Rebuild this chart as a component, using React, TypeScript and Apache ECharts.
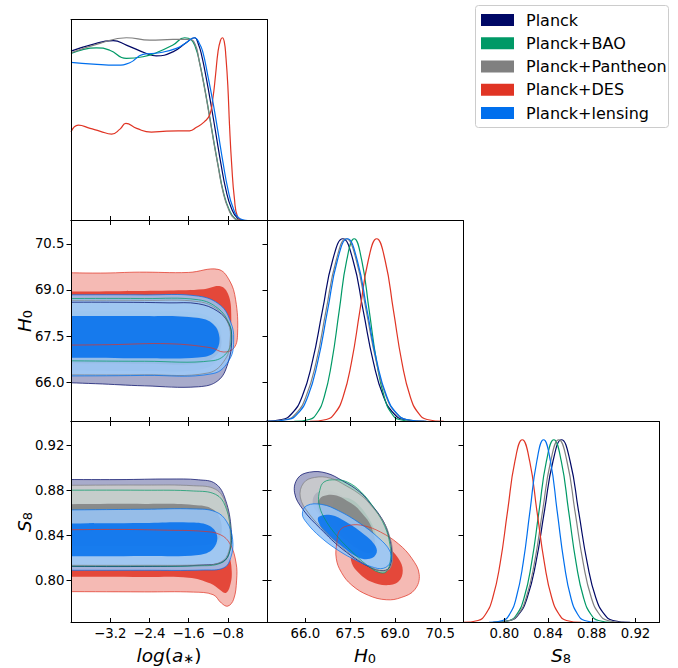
import React, { useEffect, useRef } from "react";
import * as echarts from "echarts";

// ---------------- data ----------------
const NAMES = ["Planck", "Planck+BAO", "Planck+Pantheon", "Planck+DES", "Planck+lensing"];
const COLORS = ["#000866", "#009966", "#808080", "#E03424", "#006FED"];
const PALE = ["#999CC2", "#99D6C2", "#CCCCCC", "#F3AEA7", "#99C5F8"];
const FILL_ORDER = [3, 0, 1, 2, 4];
const LINE_ORDER = [0, 1, 2, 3, 4];

const LOGA_TICKS = [-3.2, -2.4, -1.6, -0.8];
const H0_TICKS = [66.0, 67.5, 69.0, 70.5];
const S8_TICKS = [0.8, 0.84, 0.88, 0.92];
const LOGA_RANGE = [-4, 0];
const H0_RANGE = [64.72, 71.26];
const S8_RANGE = [0.7622, 0.9415];
const P_RANGE = [0, 1.1];

// 1D marginals: log(a*)
const logaPlanck = [[-4.0,0.927],[-3.61,0.960],[-3.14,0.984],[-2.87,0.960],[-2.46,0.914],[-2.26,0.901],[-1.92,0.923],[-1.65,0.973],[-1.48,1.0],[-1.40,0.965],[-1.33,0.90],[-1.24,0.78],[-1.14,0.63],[-1.04,0.47],[-0.94,0.31],[-0.84,0.17],[-0.73,0.07],[-0.60,0.012],[-0.45,0]];
const logaBAO = [[-4.0,0.914],[-3.48,0.945],[-3.21,0.932],[-2.87,0.887],[-2.53,0.896],[-2.26,0.918],[-1.92,0.960],[-1.68,1.0],[-1.55,0.99],[-1.45,0.94],[-1.38,0.87],[-1.29,0.75],[-1.19,0.60],[-1.09,0.44],[-0.99,0.29],[-0.89,0.155],[-0.78,0.065],[-0.65,0.01],[-0.5,0]];
const logaPantheon = [[-4.0,0.918],[-3.41,0.969],[-2.87,1.0],[-2.39,0.987],[-1.92,0.991],[-1.58,0.991],[-1.46,0.96],[-1.39,0.88],[-1.30,0.76],[-1.20,0.61],[-1.10,0.45],[-1.00,0.30],[-0.90,0.16],[-0.79,0.065],[-0.66,0.01],[-0.5,0]];
const logaDES = [[-4.0,0.485],[-3.85,0.522],[-3.61,0.504],[-3.40,0.488],[-3.17,0.473],[-3.0,0.50],[-2.88,0.531],[-2.66,0.504],[-2.36,0.484],[-2.05,0.489],[-1.58,0.491],[-1.44,0.51],[-1.28,0.54],[-1.17,0.577],[-1.105,0.668],[-1.05,0.796],[-1.0,0.923],[-0.95,0.985],[-0.91,1.0],[-0.87,0.975],[-0.84,0.9],[-0.8,0.741],[-0.765,0.522],[-0.72,0.303],[-0.665,0.12],[-0.6,0.02],[-0.5,0]];
const logaLensing = [[-4.0,0.865],[-3.55,0.856],[-3.07,0.850],[-2.80,0.863],[-2.53,0.909],[-2.19,0.918],[-1.85,0.942],[-1.65,0.973],[-1.48,1.0],[-1.38,0.969],[-1.31,0.923],[-1.21,0.796],[-1.105,0.650],[-1.0,0.485],[-0.90,0.321],[-0.80,0.175],[-0.70,0.075],[-0.56,0.011],[-0.39,0]];

// 1D marginals: H0
const h0Planck = [[64.53,0.0003],[65.21,0.0111],[65.55,0.0439],[65.89,0.1353],[66.23,0.3247],[66.57,0.6065],[66.91,0.8825],[67.25,1],[67.59,0.8825],[67.93,0.6065],[68.27,0.3247],[68.61,0.1353],[68.95,0.0439],[69.29,0.0111],[69.97,0.0003]];
const h0BAO = [[65.63,0.0003],[66.13,0.0111],[66.38,0.0439],[66.63,0.1353],[66.88,0.3247],[67.13,0.6065],[67.38,0.8825],[67.63,1],[67.88,0.8825],[68.13,0.6065],[68.38,0.3247],[68.63,0.1353],[68.88,0.0439],[69.13,0.0111],[69.63,0.0003]];
const h0Pantheon = [[64.68,0.0003],[65.35,0.0111],[65.69,0.0439],[66.02,0.1353],[66.36,0.3247],[66.69,0.6065],[67.03,0.8825],[67.36,1],[67.70,0.8825],[68.03,0.6065],[68.37,0.3247],[68.70,0.1353],[69.04,0.0439],[69.37,0.0111],[70.04,0.0003]];
const h0DES = [[66.14,0.0003],[66.70,0.0111],[66.98,0.0439],[67.26,0.1353],[67.54,0.3247],[67.82,0.6065],[68.10,0.8825],[68.38,1],[68.66,0.8825],[68.94,0.6065],[69.22,0.3247],[69.50,0.1353],[69.78,0.0439],[70.06,0.0111],[70.62,0.0003]];
const h0Lensing = [[64.76,0.0003],[65.42,0.0111],[65.75,0.0439],[66.08,0.1353],[66.41,0.3247],[66.74,0.6065],[67.07,0.8825],[67.40,1],[67.73,0.8825],[68.06,0.6065],[68.39,0.3247],[68.72,0.1353],[69.05,0.0439],[69.38,0.0111],[70.04,0.0003]];

// 1D marginals: S8
const s8Planck = [[0.7895,0.0003],[0.8052,0.0111],[0.8131,0.0439],[0.8209,0.1353],[0.8288,0.3247],[0.8366,0.6065],[0.8445,0.8825],[0.8523,1],[0.8602,0.8825],[0.8680,0.6065],[0.8759,0.3247],[0.8837,0.1353],[0.8916,0.0439],[0.8994,0.0111],[0.9151,0.0003]];
const s8BAO = [[0.7909,0.0003],[0.8045,0.0111],[0.8113,0.0439],[0.8181,0.1353],[0.8249,0.3247],[0.8317,0.6065],[0.8385,0.8825],[0.8453,1],[0.8521,0.8825],[0.8589,0.6065],[0.8657,0.3247],[0.8725,0.1353],[0.8793,0.0439],[0.8861,0.0111],[0.8997,0.0003]];
const s8Pantheon = [[0.7902,0.0003],[0.8051,0.0111],[0.8126,0.0439],[0.8200,0.1353],[0.8275,0.3247],[0.8349,0.6065],[0.8424,0.8825],[0.8498,1],[0.8573,0.8825],[0.8647,0.6065],[0.8722,0.3247],[0.8796,0.1353],[0.8871,0.0439],[0.8945,0.0111],[0.9094,0.0003]];
const s8DES = [[0.7624,0.0003],[0.7759,0.0111],[0.7827,0.0439],[0.7894,0.1353],[0.7962,0.3247],[0.8029,0.6065],[0.8097,0.8825],[0.8164,1],[0.8232,0.8825],[0.8299,0.6065],[0.8367,0.3247],[0.8434,0.1353],[0.8502,0.0439],[0.8569,0.0111],[0.8704,0.0003]];
const s8Lensing = [[0.7859,0.0003],[0.7984,0.0111],[0.8047,0.0439],[0.8109,0.1353],[0.8172,0.3247],[0.8234,0.6065],[0.8297,0.8825],[0.8359,1],[0.8422,0.8825],[0.8484,0.6065],[0.8547,0.3247],[0.8609,0.1353],[0.8672,0.0439],[0.8734,0.0111],[0.8859,0.0003]];

// 2D contours: log(a*) vs H0  (95% and 68%)
const aH0Planck95 = [[-5,68.6],[-4.5,68.6],[-3.0,68.6],[-2.0,68.58],[-1.4,68.55],[-1.0,68.3],[-0.78,67.9],[-0.72,67.4],[-0.8,66.6],[-1.0,66.05],[-1.4,65.85],[-2.5,65.88],[-3.5,65.95],[-4.5,66.0],[-5,66.0]];
const aH0Planck68 = [[-5,68.2],[-4.5,68.2],[-2.5,68.18],[-1.6,68.15],[-1.15,67.98],[-0.93,67.4],[-1.05,66.65],[-1.5,66.38],[-2.5,66.36],[-4.5,66.4],[-5,66.4]];
const aH0BAO95 = [[-5,68.72],[-4.5,68.72],[-2.5,68.72],[-1.4,68.68],[-1.0,68.4],[-0.77,67.9],[-0.73,67.5],[-0.8,67.0],[-1.1,66.7],[-2.5,66.68],[-4.5,66.7],[-5,66.7]];
const aH0BAO68 = [[-5,68.3],[-4.5,68.3],[-2.5,68.3],[-1.5,68.27],[-1.1,68.05],[-0.93,67.62],[-1.05,67.15],[-1.4,67.0],[-2.5,67.0],[-4.5,67.0],[-5,67.0]];
const aH0Pantheon95 = [[-5,68.66],[-4.5,68.66],[-2.5,68.66],[-1.4,68.62],[-1.0,68.35],[-0.79,67.9],[-0.75,67.4],[-0.85,66.75],[-1.2,66.3],[-2.5,66.24],[-4.5,66.24],[-5,66.24]];
const aH0Pantheon68 = [[-5,68.15],[-4.5,68.15],[-2.5,68.15],[-1.5,68.12],[-1.1,67.9],[-0.93,67.35],[-1.05,66.85],[-1.45,66.6],[-2.5,66.6],[-4.5,66.62],[-5,66.62]];
const aH0DES95 = [[-5,69.57],[-4.5,69.57],[-3.4,69.55],[-2.6,69.58],[-1.6,69.57],[-1.0,69.67],[-0.77,69.32],[-0.64,68.68],[-0.6,67.6],[-0.67,67.12],[-0.88,66.98],[-1.15,67.12],[-2.0,67.25],[-3.2,67.22],[-4.5,67.2],[-5,67.2]];
const aH0DES68 = [[-5,68.95],[-4.5,68.95],[-3.0,68.96],[-2.0,68.98],[-1.3,69.02],[-0.95,69.12],[-0.79,68.85],[-0.73,68.2],[-0.78,67.7],[-1.0,67.6],[-2.0,67.65],[-4.5,67.65],[-5,67.65]];
const aH0Lensing95 = [[-5,68.84],[-4.5,68.84],[-2.5,68.84],[-1.4,68.8],[-0.95,68.5],[-0.74,67.95],[-0.68,67.4],[-0.76,66.75],[-1.1,66.28],[-2.5,66.22],[-4.5,66.2],[-5,66.2]];
const aH0Lensing68 = [[-5,68.15],[-4.5,68.15],[-2.5,68.15],[-1.5,68.1],[-1.12,67.92],[-0.97,67.45],[-1.07,66.97],[-1.4,66.8],[-2.5,66.78],[-4.5,66.8],[-5,66.8]];

// 2D contours: log(a*) vs S8
const aS8Planck95 = [[-5,0.8898],[-4.5,0.8898],[-3.0,0.8897],[-2.0,0.8902],[-1.4,0.8895],[-1.05,0.886],[-0.85,0.872],[-0.73,0.845],[-0.76,0.826],[-0.9,0.8165],[-1.3,0.8135],[-2.5,0.8122],[-4.5,0.8124],[-5,0.8124]];
const aS8Planck68 = [[-5,0.868],[-4.5,0.868],[-2.5,0.868],[-1.5,0.867],[-1.1,0.862],[-0.93,0.85],[-1.0,0.838],[-1.3,0.833],[-2.5,0.833],[-4.5,0.833],[-5,0.833]];
const aS8BAO95 = [[-5,0.8802],[-4.5,0.8802],[-2.5,0.8802],[-1.5,0.8795],[-1.05,0.8765],[-0.85,0.866],[-0.74,0.842],[-0.78,0.823],[-0.95,0.815],[-1.4,0.8128],[-2.5,0.8125],[-4.5,0.8125],[-5,0.8125]];
const aS8BAO68 = [[-5,0.8655],[-4.5,0.8655],[-2.5,0.8655],[-1.5,0.865],[-1.1,0.861],[-0.93,0.848],[-1.0,0.832],[-1.3,0.826],[-2.5,0.8255],[-4.5,0.8255],[-5,0.8255]];
const aS8Pantheon95 = [[-5,0.8845],[-4.5,0.8845],[-2.5,0.8848],[-1.5,0.8842],[-1.05,0.881],[-0.85,0.869],[-0.75,0.843],[-0.8,0.823],[-1.0,0.815],[-1.4,0.8135],[-2.5,0.8132],[-4.5,0.8132],[-5,0.8132]];
const aS8Pantheon68 = [[-5,0.8675],[-4.5,0.8675],[-2.5,0.868],[-1.5,0.867],[-1.1,0.863],[-0.93,0.85],[-1.0,0.836],[-1.3,0.831],[-2.5,0.8305],[-4.5,0.8305],[-5,0.8305]];
const aS8DES95 = [[-5,0.8448],[-4.5,0.8448],[-3.0,0.8452],[-2.0,0.8445],[-1.3,0.8435],[-0.95,0.8405],[-0.75,0.832],[-0.63,0.815],[-0.62,0.8],[-0.68,0.783],[-0.8,0.7768],[-0.93,0.7795],[-1.1,0.787],[-1.5,0.7893],[-2.5,0.7895],[-4.5,0.7898],[-5,0.7898]];
const aS8DES68 = [[-5,0.836],[-4.5,0.836],[-2.5,0.836],[-1.5,0.835],[-1.05,0.832],[-0.8,0.823],[-0.72,0.808],[-0.76,0.794],[-0.84,0.7885],[-0.95,0.791],[-1.15,0.797],[-1.6,0.8022],[-2.5,0.8028],[-4.5,0.803],[-5,0.803]];
const aS8Lensing95 = [[-5,0.8625],[-4.5,0.8625],[-2.5,0.8632],[-1.5,0.8635],[-1.05,0.861],[-0.82,0.852],[-0.7,0.836],[-0.74,0.82],[-0.88,0.811],[-1.3,0.809],[-2.5,0.8088],[-4.5,0.8088],[-5,0.8088]];
const aS8Lensing68 = [[-5,0.8505],[-4.5,0.8505],[-2.5,0.851],[-1.6,0.8515],[-1.2,0.849],[-1.02,0.84],[-1.1,0.828],[-1.4,0.8225],[-2.5,0.8215],[-4.5,0.8212],[-5,0.8212]];

// 2D contours: H0 vs S8
const hS8Planck95 = [[66.14,0.8963],[66.7,0.8955],[67.26,0.8883],[67.8,0.879],[68.15,0.869],[68.55,0.855],[68.76,0.8421],[68.88,0.826],[68.82,0.812],[68.6,0.8085],[68.15,0.8115],[67.26,0.8272],[66.5,0.846],[65.92,0.863],[65.64,0.8779],[65.75,0.891]];
const hS8Planck68 = [[66.56,0.8797],[66.91,0.8792],[67.26,0.8747],[67.59,0.8689],[67.81,0.8627],[68.06,0.8541],[68.19,0.8461],[68.26,0.8361],[68.22,0.8274],[68.09,0.8252],[67.81,0.8271],[67.26,0.8368],[66.79,0.8485],[66.43,0.859],[66.25,0.8682],[66.32,0.8764]];
const hS8BAO95 = [[66.62,0.8875],[67.0,0.8895],[67.4,0.8875],[67.85,0.879],[68.3,0.864],[68.65,0.848],[68.82,0.832],[68.84,0.818],[68.7,0.8075],[68.45,0.807],[68.05,0.8135],[67.55,0.8255],[67.05,0.8395],[66.62,0.856],[66.45,0.869],[66.48,0.88]];
const hS8BAO68 = [[67.0,0.8725],[67.24,0.8737],[67.49,0.8725],[67.77,0.8672],[68.05,0.8579],[68.26,0.848],[68.37,0.8381],[68.38,0.8294],[68.29,0.8229],[68.14,0.8226],[67.89,0.8266],[67.58,0.834],[67.27,0.8427],[67.0,0.853],[66.9,0.861],[66.92,0.8678]];
const hS8Pantheon95 = [[66.31,0.8916],[66.84,0.8909],[67.37,0.884],[67.88,0.8752],[68.22,0.8657],[68.6,0.8524],[68.8,0.8401],[68.91,0.8248],[68.85,0.8115],[68.64,0.8082],[68.22,0.811],[67.37,0.826],[66.65,0.8438],[66.1,0.86],[65.83,0.8741],[65.94,0.8866]];
const hS8Pantheon68 = [[66.71,0.8758],[67.04,0.8754],[67.37,0.8711],[67.68,0.8656],[67.89,0.8597],[68.13,0.8515],[68.25,0.8439],[68.32,0.8344],[68.28,0.8261],[68.15,0.8241],[67.89,0.8258],[67.37,0.8351],[66.92,0.8462],[66.58,0.8562],[66.41,0.8649],[66.48,0.8727]];
const hS8DES95 = [[67.05,0.8335],[67.15,0.8445],[67.5,0.849],[67.95,0.8485],[68.5,0.843],[69.1,0.8325],[69.55,0.8195],[69.8,0.805],[69.65,0.7915],[69.2,0.7845],[68.7,0.7825],[68.1,0.7865],[67.55,0.7955],[67.2,0.807],[67.03,0.8195]];
const hS8DES68 = [[67.55,0.825],[67.8,0.8345],[68.2,0.836],[68.7,0.8305],[69.1,0.8195],[69.25,0.8085],[69.1,0.7985],[68.7,0.7955],[68.2,0.7985],[67.8,0.806],[67.55,0.815]];
const hS8Lensing95 = [[66.05,0.8665],[66.55,0.8675],[67.1,0.862],[67.8,0.851],[68.45,0.8375],[68.82,0.826],[68.85,0.8165],[68.6,0.8105],[68.2,0.812],[67.7,0.8175],[67.1,0.8265],[66.5,0.8385],[66.05,0.851],[65.9,0.859]];
const hS8Lensing68 = [[66.45,0.8565],[66.85,0.858],[67.35,0.852],[67.9,0.842],[68.3,0.832],[68.38,0.8245],[68.15,0.819],[67.75,0.8205],[67.2,0.8305],[66.7,0.8415],[66.45,0.851]];

// ---------------- layout / option ----------------
const FONT = "DejaVu Sans";
const GW = 196;
const GH = 201;
const GRID_POS = [
  [71, 19.5],
  [71, 220.5],
  [71, 421.5],
  [267, 220.5],
  [267, 421.5],
  [463, 421.5],
];

const AX: any = {
  a: { range: LOGA_RANGE, ticks: LOGA_TICKS, fmt: (v: number) => (v < 0 ? "\u2212" : "") + Math.abs(v).toFixed(1) },
  h: { range: H0_RANGE, ticks: H0_TICKS, fmt: (v: number) => Number(v).toFixed(1) },
  s: { range: S8_RANGE, ticks: S8_TICKS, fmt: (v: number) => Number(v).toFixed(2) },
  p: { range: P_RANGE, ticks: null, fmt: null },
};

const PANELS: any[] = [
  { x: "a", y: "p", b: "in", bl: false, t: null, l: null, ll: false, r: null },
  { x: "a", y: "h", b: "in", bl: false, t: "in", l: "out", ll: true, r: "in" },
  { x: "a", y: "s", b: "in", bl: true, t: "in", l: "out", ll: true, r: "in" },
  { x: "h", y: "p", b: "in", bl: false, t: null, l: null, ll: false, r: null },
  { x: "h", y: "s", b: "in", bl: true, t: "in", l: "in", ll: false, r: "in" },
  { x: "s", y: "p", b: "in", bl: true, t: null, l: null, ll: false, r: null },
];

function axis(dim: string, g: number, position: string, key: string, mode: any, labels: boolean) {
  const d = AX[key];
  const hasTicks = !!mode && !!d.ticks;
  return {
    type: "value",
    gridIndex: g,
    position,
    min: d.range[0],
    max: d.range[1],
    z: 10,
    silent: true,
    axisLine: { show: true, onZero: false, lineStyle: { color: "#000", width: 1 } },
    splitLine: { show: false },
    splitArea: { show: false },
    axisTick: hasTicks
      ? { show: true, inside: mode === "in", length: 4.5, lineStyle: { color: "#000", width: 1 }, customValues: d.ticks }
      : { show: false },
    axisLabel: labels
      ? { show: true, customValues: d.ticks, formatter: d.fmt, fontFamily: FONT, fontSize: 13.3, color: "#000", margin: dim === "x" ? 4.5 : 6.5 }
      : { show: false },
  };
}

function fillSeries(g: number, contours: any[]) {
  return FILL_ORDER.map((d) => ({
    type: "custom",
    coordinateSystem: "cartesian2d",
    xAxisIndex: 2 * g,
    yAxisIndex: 2 * g,
    clip: true,
    silent: true,
    data: contours[d].map((poly: number[][]) => poly[Math.floor(poly.length / 2)]),
    renderItem: (params: any, api: any) => {
      const poly = contours[d][params.dataIndex];
      return {
        type: "polygon",
        shape: { points: poly.map((p: number[]) => api.coord(p)), smooth: 0.4 },
        style: { fill: params.dataIndex === 0 ? PALE[d] : COLORS[d], opacity: 0.85, stroke: null },
      };
    },
  }));
}

function outlineSeries(g: number, contours: any[]) {
  return {
    type: "custom",
    coordinateSystem: "cartesian2d",
    xAxisIndex: 2 * g,
    yAxisIndex: 2 * g,
    clip: true,
    silent: true,
    data: FILL_ORDER.map((d) => contours[d][0][Math.floor(contours[d][0].length / 2)]),
    renderItem: (params: any, api: any) => {
      const d = FILL_ORDER[params.dataIndex];
      const poly = contours[d][0];
      return {
        type: "polygon",
        shape: { points: poly.map((p: number[]) => api.coord(p)), smooth: 0.4 },
        style: { fill: "none", stroke: COLORS[d], lineWidth: 0.8, opacity: 0.9 },
      };
    },
  };
}

function curveSeries(g: number, curves: any[]) {
  return LINE_ORDER.map((d) => ({
    type: "line",
    name: NAMES[d],
    xAxisIndex: 2 * g,
    yAxisIndex: 2 * g,
    data: curves[d],
    showSymbol: false,
    symbol: "none",
    smooth: 0.5,
    clip: true,
    silent: true,
    lineStyle: { color: COLORS[d], width: 1.2 },
  }));
}

function buildOption() {
  const grid = GRID_POS.map(([l, t]) => ({ left: l, top: t, width: GW, height: GH, outerBoundsMode: "none", containLabel: false }));
  const xAxis: any[] = [];
  const yAxis: any[] = [];
  PANELS.forEach((p, g) => {
    xAxis.push(axis("x", g, "bottom", p.x, p.b, p.bl));
    xAxis.push(axis("x", g, "top", p.x, p.t, false));
    yAxis.push(axis("y", g, "left", p.y, p.l, p.ll));
    yAxis.push(axis("y", g, "right", p.y, p.r, false));
  });

  const contA = [
    [aH0Planck95, aH0Planck68],
    [aH0BAO95, aH0BAO68],
    [aH0Pantheon95, aH0Pantheon68],
    [aH0DES95, aH0DES68],
    [aH0Lensing95, aH0Lensing68],
  ];
  const contB = [
    [aS8Planck95, aS8Planck68],
    [aS8BAO95, aS8BAO68],
    [aS8Pantheon95, aS8Pantheon68],
    [aS8DES95, aS8DES68],
    [aS8Lensing95, aS8Lensing68],
  ];
  const contC = [
    [hS8Planck95, hS8Planck68],
    [hS8BAO95, hS8BAO68],
    [hS8Pantheon95, hS8Pantheon68],
    [hS8DES95, hS8DES68],
    [hS8Lensing95, hS8Lensing68],
  ];

  const series: any[] = [
    ...fillSeries(1, contA),
    ...fillSeries(2, contB),
    ...fillSeries(4, contC),
    outlineSeries(1, contA),
    outlineSeries(2, contB),
    outlineSeries(4, contC),
    ...curveSeries(0, [logaPlanck, logaBAO, logaPantheon, logaDES, logaLensing]),
    ...curveSeries(3, [h0Planck, h0BAO, h0Pantheon, h0DES, h0Lensing]),
    ...curveSeries(5, [s8Planck, s8BAO, s8Pantheon, s8DES, s8Lensing]),
  ];

  const rich = {
    it: { fontFamily: FONT, fontStyle: "italic", fontSize: 18.5, lineHeight: 20, fill: "#000" },
    rm: { fontFamily: FONT, fontSize: 18.5, lineHeight: 20, fill: "#000" },
    sb: { fontFamily: FONT, fontSize: 13, lineHeight: 9, verticalAlign: "bottom", fill: "#000" },
  };
  const title = (text: string, x: number, y: number, rot: number) => ({
    type: "text",
    x,
    y,
    rotation: rot,
    z: 20,
    silent: true,
    style: { text, rich, align: "center", verticalAlign: "middle", fill: "#000" },
  });

  const graphic: any[] = [
    title("{it|log}{rm|(}{it|a}{sb|\u2217}{rm|)}", 169, 655, 0),
    title("{it|H}{sb|0}", 365, 655, 0),
    title("{it|S}{sb|8}", 561, 655, 0),
    title("{it|H}{sb|0}", 24, 321, Math.PI / 2),
    title("{it|S}{sb|8}", 24, 522, Math.PI / 2),
    {
      type: "rect",
      z: 20,
      silent: true,
      shape: { x: 475.5, y: 5.5, width: 193, height: 122, r: 3 },
      style: { fill: "#fff", stroke: "#cccccc", lineWidth: 1 },
    },
  ];
  NAMES.forEach((n, i) => {
    const cy = 20 + i * 23.25;
    graphic.push({
      type: "rect",
      z: 21,
      silent: true,
      shape: { x: 481, y: cy - 6, width: 33, height: 12 },
      style: { fill: COLORS[i] },
    });
    graphic.push({
      type: "text",
      z: 21,
      silent: true,
      x: 526,
      y: cy,
      style: { text: n, fontFamily: FONT, fontSize: 16, fill: "#000", align: "left", verticalAlign: "middle" },
    });
  });

  return {
    animation: false,
    backgroundColor: "#fff",
    grid,
    xAxis,
    yAxis,
    series,
    graphic,
  };
}

export default function App() {
  const ref = useRef<HTMLDivElement>(null);
  useEffect(() => {
    const chart = echarts.init(ref.current as HTMLDivElement, null, { renderer: "svg" });
    chart.setOption(buildOption() as any);
    return () => chart.dispose();
  }, []);
  return (
    <div
      ref={ref}
      style={{ position: "fixed", left: 0, top: 0, width: 678, height: 668, background: "#fff" }}
    />
  );
}
